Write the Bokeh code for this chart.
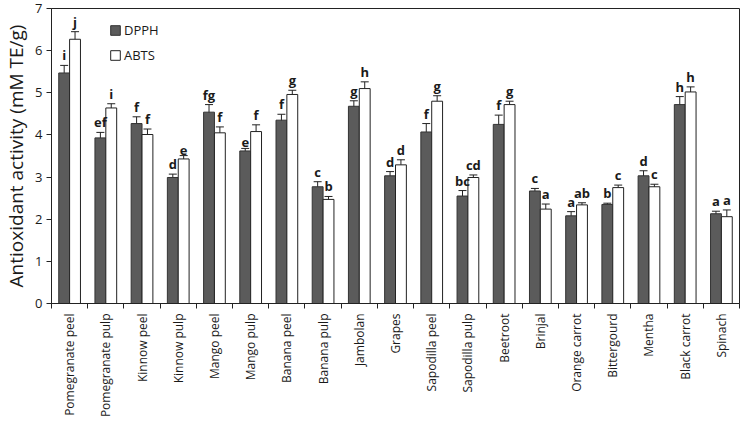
import math
import numpy as np
from bokeh.plotting import figure
from bokeh.models import (ColumnDataSource, Range1d, LinearAxis, FixedTicker,
                          Whisker, TeeHead, Legend, LegendItem)
from bokeh.core.properties import value
from bokeh.embed import file_html
from bokeh.resources import INLINE

categories = ["Pomegranate peel", "Pomegranate pulp", "Kinnow peel", "Kinnow pulp",
              "Mango peel", "Mango pulp", "Banana peel", "Banana pulp", "Jambolan",
              "Grapes", "Sapodilla peel", "Sapodilla pulp", "Beetroot", "Brinjal",
              "Orange carrot", "Bittergourd", "Mentha", "Black carrot", "Spinach"]
dpph = [5.47, 3.93, 4.27, 2.99, 4.54, 3.62, 4.35, 2.77, 4.68, 3.03,
        4.07, 2.55, 4.25, 2.67, 2.08, 2.35, 3.03, 4.72, 2.13]
dpph_err = [0.18, 0.13, 0.16, 0.08, 0.18, 0.06, 0.14, 0.12, 0.13, 0.10,
            0.20, 0.13, 0.22, 0.06, 0.10, 0.03, 0.12, 0.19, 0.06]
abts = [6.27, 4.64, 4.01, 3.43, 4.05, 4.08, 4.96, 2.47, 5.10, 3.29,
        4.80, 2.99, 4.72, 2.24, 2.34, 2.75, 2.77, 5.02, 2.06]
abts_err = [0.18, 0.10, 0.13, 0.08, 0.14, 0.16, 0.10, 0.07, 0.16, 0.12,
            0.13, 0.06, 0.08, 0.12, 0.05, 0.06, 0.06, 0.12, 0.16]
dpph_letters = ["i", "ef", "f", "d", "fg", "e", "f", "c", "g", "d",
                "f", "bc", "f", "c", "a", "b", "d", "h", "a"]
abts_letters = ["j", "i", "f", "e", "f", "f", "g", "b", "h", "d",
                "g", "cd", "g", "a", "ab", "c", "c", "h", "a"]
y_ticks = [0, 1, 2, 3, 4, 5, 6, 7]

FONT = "Open Sans"
TXT = "#1a1a1a"
DARK = "#5b5b5b"

n = len(categories)
idx = np.arange(n)
xd = idx + 0.5 - 0.15
xa = idx + 0.5 + 0.15
dpph = np.array(dpph); abts = np.array(abts)
dpph_err = np.array(dpph_err); abts_err = np.array(abts_err)

src_d = ColumnDataSource(dict(x=xd, top=dpph, lo=dpph - dpph_err, hi=dpph + dpph_err, lab=dpph_letters))
src_a = ColumnDataSource(dict(x=xa, top=abts, lo=abts - abts_err, hi=abts + abts_err, lab=abts_letters))

p = figure(width=742, height=420, output_backend="svg", toolbar_location=None,
           x_range=Range1d(0, n), y_range=Range1d(0, 7),
           x_axis_location=None, y_axis_location=None,
           min_border_left=2, min_border_right=3, min_border_top=8, min_border_bottom=0)
p.grid.visible = False
p.outline_line_color = "#222222"
p.outline_line_width = 1
p.background_fill_color = "white"
p.border_fill_color = "white"

yaxis = LinearAxis(ticker=FixedTicker(ticks=y_ticks, minor_ticks=[]),
                   axis_label="Antioxidant activity (mM TE/g)")
yaxis.axis_label_text_font = FONT
yaxis.axis_label_text_font_size = "19px"
yaxis.axis_label_text_font_style = "normal"
yaxis.axis_label_text_color = TXT
yaxis.axis_label_standoff = 3
yaxis.major_label_text_font = FONT
yaxis.major_label_text_font_size = "13px"
yaxis.major_label_text_color = TXT
yaxis.major_label_standoff = 4
yaxis.major_tick_in = 0
yaxis.major_tick_out = 5
yaxis.minor_tick_line_color = None
yaxis.axis_line_color = "#222222"
yaxis.major_tick_line_color = "#222222"
p.add_layout(yaxis, "left")

centers = list(idx + 0.5)
bounds = list(range(n + 1))
xaxis = LinearAxis(ticker=FixedTicker(ticks=centers, minor_ticks=bounds))
xaxis.major_label_overrides = {float(c): name for c, name in zip(centers, categories)}
xaxis.major_label_orientation = math.pi / 2
xaxis.major_label_text_font = FONT
xaxis.major_label_text_font_size = "12px"
xaxis.major_label_text_color = TXT
xaxis.major_label_standoff = 5
xaxis.major_tick_line_color = None
xaxis.major_tick_in = 0
xaxis.major_tick_out = 0
xaxis.minor_tick_in = 0
xaxis.minor_tick_out = 5
xaxis.minor_tick_line_color = "#222222"
xaxis.axis_line_color = "#222222"
p.add_layout(xaxis, "below")

rd = p.vbar(x="x", top="top", width=0.3, bottom=0, source=src_d,
            fill_color=DARK, line_color="#333333", line_width=1)
ra = p.vbar(x="x", top="top", width=0.3, bottom=0, source=src_a,
            fill_color="white", line_color="#222222", line_width=1)

for src in (src_d, src_a):
    w = Whisker(source=src, base="x", lower="lo", upper="hi",
                line_color="#222222", line_width=1,
                upper_head=TeeHead(size=8, line_color="#222222", line_width=1),
                lower_head=TeeHead(size=8, line_color="#222222", line_width=1))
    p.add_layout(w)
    p.text(x="x", y="hi", text="lab", source=src, text_align="center",
           text_baseline="bottom", y_offset=-1, text_font=value(FONT),
           text_font_style="bold", text_font_size="13px", text_color=TXT)

legend = Legend(items=[LegendItem(label="DPPH", renderers=[rd]),
                       LegendItem(label="ABTS", renderers=[ra])],
                location=(58, 238), orientation="vertical")
legend.label_text_font = FONT
legend.label_text_font_size = "13px"
legend.label_text_color = TXT
legend.glyph_width = 12
legend.glyph_height = 12
legend.label_height = 20
legend.spacing = 5
legend.padding = 4
legend.label_standoff = 3
legend.border_line_color = None
legend.background_fill_alpha = 0
p.add_layout(legend)

open("out.html", "w").write(file_html(p, INLINE))
